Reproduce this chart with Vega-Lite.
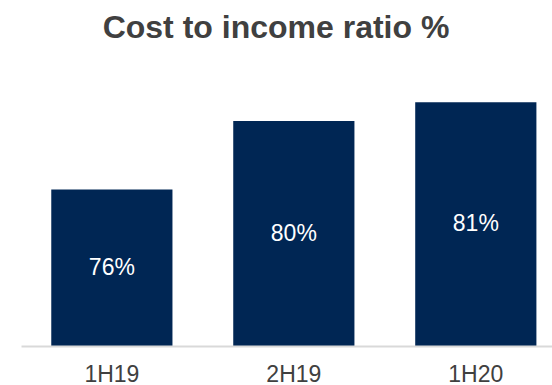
{
  "$schema": "https://vega.github.io/schema/vega-lite/v6.json",
  "width": 531,
  "height": 266,
  "autosize": {"type": "none"},
  "padding": {"left": 21, "top": 80, "right": 0, "bottom": 39},
  "background": "white",
  "config": {"view": {"stroke": null}, "font": "Liberation Sans"},
  "title": {
    "text": "Cost to income ratio %",
    "font": "Liberation Sans",
    "fontSize": 32,
    "fontWeight": "bold",
    "color": "#404040",
    "anchor": "middle",
    "baseline": "alphabetic",
    "offset": 10,
    "dx": -10.5
  },
  "data": {
    "values": [
      {"period": "1H19", "ratio": 0.760},
      {"period": "2H19", "ratio": 0.800},
      {"period": "1H20", "ratio": 0.811}
    ]
  },
  "encoding": {
    "x": {
      "field": "period",
      "type": "nominal",
      "sort": null,
      "scale": {"paddingInner": 0.334, "paddingOuter": 0.126, "align": 0.66},
      "axis": {
        "title": null,
        "ticks": false,
        "domainColor": "#d9d9d9",
        "domainWidth": 2,
        "labelAngle": 0,
        "labelFont": "Liberation Sans",
        "labelFontSize": 23,
        "labelColor": "#404040",
        "labelBaseline": "alphabetic",
        "labelPadding": 35,
        "zindex": 1
      }
    }
  },
  "layer": [
    {
      "mark": {"type": "bar", "color": "#002654"},
      "encoding": {
        "y": {
          "field": "ratio",
          "type": "quantitative",
          "scale": {"domain": [0.6685, 0.824], "nice": false, "zero": false, "clamp": true},
          "axis": null
        }
      }
    },
    {
      "transform": [{"calculate": "(datum.ratio + 0.6685) / 2", "as": "mid"}],
      "mark": {"type": "text", "color": "white", "fontSize": 23, "font": "Liberation Sans", "baseline": "middle", "align": "center"},
      "encoding": {
        "y": {"field": "mid", "type": "quantitative", "scale": {"domain": [0.6685, 0.824], "nice": false, "zero": false, "clamp": true}, "axis": null},
        "text": {"field": "ratio", "type": "quantitative", "format": ".0%"}
      }
    }
  ],
  "resolve": {"scale": {"y": "shared"}}
}
